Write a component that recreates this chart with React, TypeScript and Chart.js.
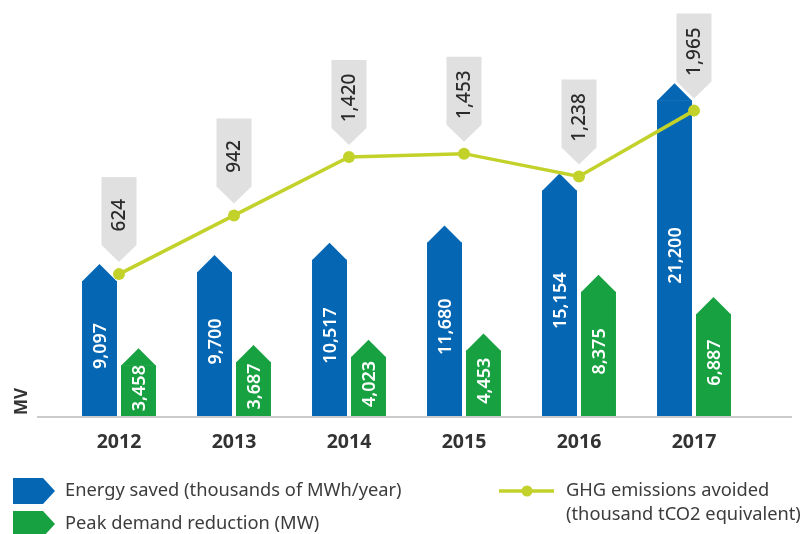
import React, { useEffect, useRef } from "react";
import { Chart, registerables } from "chart.js";

Chart.register(...registerables);

const years = ["2012", "2013", "2014", "2015", "2016", "2017"];
const energySaved = [9097, 9700, 10517, 11680, 15154, 21200];
const peakReduction = [3458, 3687, 4023, 4453, 8375, 6887];
const ghgAvoided = [624, 942, 1420, 1453, 1238, 1965];

const legendEnergy = "Energy saved (thousands of MWh/year)";
const legendPeak = "Peak demand reduction (MW)";
const legendGhg = ["GHG emissions avoided", "(thousand tCO2 equivalent)"];
const axisNote = "MV";

const BLUE = "#0567b3";
const GREEN = "#17a140";
const LIME = "#c2d22b";
const GRAY_BOX = "#e0e0e0";
const TEXT = "#333333";
const FONT = '"Noto Sans", sans-serif';

const fmt = (v: number) => v.toLocaleString("en-US");

const customPlugin = {
  id: "custom",
  afterDatasetDraw(chart: any, args: any) {
    const ds = chart.data.datasets[args.index];
    if (ds.type === "line") return;
    const ctx = chart.ctx;
    const color = ds.backgroundColor;
    ctx.save();
    args.meta.data.forEach((el: any, i: number) => {
      const { x, y, width, base } = el;
      const hw = width / 2;
      ctx.fillStyle = color;
      ctx.beginPath();
      ctx.moveTo(x - hw, y + 0.5);
      ctx.lineTo(x, y - 17);
      ctx.lineTo(x + hw, y + 0.5);
      ctx.closePath();
      ctx.fill();
      ctx.save();
      ctx.translate(x + 1, (y - 6 + base) / 2);
      ctx.rotate(-Math.PI / 2);
      ctx.fillStyle = "#ffffff";
      ctx.font = `600 18px ${FONT}`;
      ctx.textAlign = "center";
      ctx.textBaseline = "middle";
      ctx.fillText(fmt(ds.data[i]), 0, 0);
      ctx.restore();
    });
    ctx.restore();
  },
  afterDatasetsDraw(chart: any) {
    const ctx = chart.ctx;
    const area = chart.chartArea;
    ctx.save();
    ctx.strokeStyle = "#cccccc";
    ctx.lineWidth = 2;
    ctx.beginPath();
    ctx.moveTo(37, area.bottom);
    ctx.lineTo(792, area.bottom);
    ctx.stroke();

    const idx = chart.data.datasets.findIndex((d: any) => d.type === "line");
    const meta = chart.getDatasetMeta(idx);
    const ds = chart.data.datasets[idx];
    meta.data.forEach((pt: any, i: number) => {
      const px = pt.x;
      const tip = pt.y - 12;
      const rb = tip - 17;
      const rt = rb - 68;
      const hw = 17.5;
      ctx.fillStyle = GRAY_BOX;
      ctx.beginPath();
      ctx.moveTo(px - hw, rt);
      ctx.lineTo(px + hw, rt);
      ctx.lineTo(px + hw, rb);
      ctx.lineTo(px, tip);
      ctx.lineTo(px - hw, rb);
      ctx.closePath();
      ctx.fill();
      ctx.save();
      ctx.translate(px + 1, rt + 38);
      ctx.rotate(-Math.PI / 2);
      ctx.fillStyle = "#2b2b2b";
      ctx.font = `500 19px ${FONT}`;
      ctx.textAlign = "center";
      ctx.textBaseline = "middle";
      ctx.fillText(fmt(ds.data[i]), 0, 0);
      ctx.restore();
    });

    ctx.save();
    ctx.translate(22, area.bottom - 2);
    ctx.rotate(-Math.PI / 2);
    ctx.fillStyle = TEXT;
    ctx.font = `bold 17px ${FONT}`;
    ctx.textAlign = "left";
    ctx.textBaseline = "middle";
    ctx.fillText(axisNote, 0, 0);
    ctx.restore();
    ctx.restore();
  },
  afterDraw(chart: any) {
    const ctx = chart.ctx;
    ctx.save();
    const arrow = (y: number, color: string) => {
      ctx.fillStyle = color;
      ctx.beginPath();
      ctx.moveTo(13, y - 13);
      ctx.lineTo(43, y - 13);
      ctx.lineTo(55, y);
      ctx.lineTo(43, y + 13);
      ctx.lineTo(13, y + 13);
      ctx.closePath();
      ctx.fill();
    };
    arrow(491, BLUE);
    arrow(524, GREEN);
    ctx.fillStyle = "#3c3c3c";
    ctx.font = `18.3px ${FONT}`;
    ctx.textAlign = "left";
    ctx.textBaseline = "middle";
    ctx.fillText(legendEnergy, 65, 491);
    ctx.fillText(legendPeak, 65, 524);
    ctx.strokeStyle = LIME;
    ctx.lineWidth = 3.5;
    ctx.beginPath();
    ctx.moveTo(499, 491);
    ctx.lineTo(554, 491);
    ctx.stroke();
    ctx.fillStyle = LIME;
    ctx.beginPath();
    ctx.arc(527, 491, 5.5, 0, Math.PI * 2);
    ctx.fill();
    ctx.fillStyle = "#3c3c3c";
    ctx.fillText(legendGhg[0], 566, 491);
    ctx.fillText(legendGhg[1], 566, 515);
    ctx.restore();
  },
};

export default function App() {
  const ref = useRef<HTMLCanvasElement>(null);
  useEffect(() => {
    if (!ref.current) return;
    const chart = new Chart(ref.current, {
      type: "bar",
      data: {
        labels: years,
        datasets: [
          {
            type: "line",
            label: "GHG emissions avoided (thousand tCO2 equivalent)",
            data: ghgAvoided,
            yAxisID: "y1",
            borderColor: LIME,
            backgroundColor: LIME,
            borderWidth: 3.5,
            pointRadius: 6,
            pointHoverRadius: 6,
            pointBorderWidth: 0,
            tension: 0,
            order: 1,
          } as any,
          {
            type: "bar",
            label: legendEnergy,
            data: energySaved,
            yAxisID: "y",
            backgroundColor: BLUE,
            borderWidth: 0,
            barPercentage: 0.897,
            categoryPercentage: 0.678,
            order: 2,
          },
          {
            type: "bar",
            label: legendPeak,
            data: peakReduction,
            yAxisID: "y",
            backgroundColor: GREEN,
            borderWidth: 0,
            barPercentage: 0.897,
            categoryPercentage: 0.678,
            order: 2,
          },
        ],
      },
      options: {
        responsive: false,
        animation: false,
        devicePixelRatio: 1,
        layout: { padding: { left: 61.5, right: 55.5, top: 0, bottom: 0 } },
        plugins: {
          legend: { display: false },
          tooltip: { enabled: false },
        },
        scales: {
          x: {
            grid: { display: false, drawTicks: false },
            border: { display: false },
            ticks: {
              color: TEXT,
              font: { family: FONT, size: 19.5, weight: "bold" },
              padding: 14,
            },
            afterFit: (s: any) => {
              s.height = 117;
            },
          },
          y: {
            display: false,
            min: 0,
            max: 27500,
            bounds: "data",
          },
          y1: {
            type: "logarithmic",
            display: false,
            min: 229,
            max: 4094,
            bounds: "data",
          },
        },
      } as any,
      plugins: [customPlugin],
    });
    return () => chart.destroy();
  }, []);
  return (
    <div style={{ position: "absolute", left: 0, top: 0, width: 807, height: 534, background: "#fff" }}>
      <canvas ref={ref} width={807} height={534} style={{ display: "block" }} />
    </div>
  );
}
